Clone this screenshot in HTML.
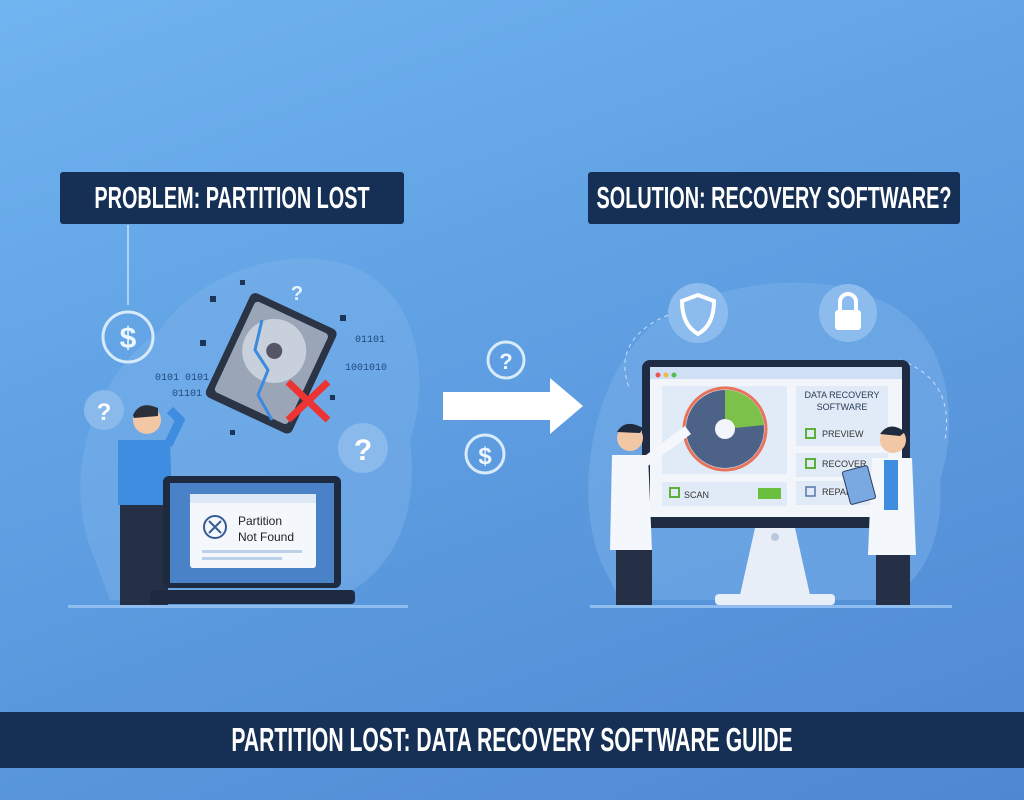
<!DOCTYPE html>
<html><head><meta charset="utf-8"><style>
*{margin:0;padding:0;box-sizing:border-box}
body{width:1024px;height:800px;overflow:hidden;position:relative;background:linear-gradient(160deg,#70b4f0 0%,#5f9fe2 45%,#4f88d2 100%);font-family:"Liberation Sans",sans-serif}
.t{position:absolute;background:#152f55;color:#fff;font-family:"Liberation Sans",sans-serif;font-weight:bold;border-radius:3px;white-space:nowrap;overflow:hidden}
.t span{position:absolute;left:50%;top:0;transform:translateX(-50%) scaleX(0.64);transform-origin:center}
</style></head><body>
<svg width="1024" height="800" style="position:absolute;left:0;top:0">
<path d="M95 560 C60 480 90 380 160 330 C200 270 300 240 360 270 C420 300 430 380 410 440 C420 520 390 580 330 600 L110 600 Z" fill="#7fb3ea" opacity="0.45"/>
<path d="M600 560 C570 480 600 360 660 320 C720 280 820 270 880 300 C950 330 960 420 940 480 C945 540 920 590 880 600 L620 600 Z" fill="#7fb3ea" opacity="0.45"/>
<rect x="68" y="605" width="340" height="3" fill="#8fbdf0"/>
<rect x="590" y="605" width="362" height="3" fill="#8fbdf0"/>
<line x1="128" y1="225" x2="128" y2="305" stroke="#c9e0f8" stroke-width="1.5"/>
<g fill="none" stroke="#d8eafc" stroke-width="3"><circle cx="128" cy="337" r="25"/><circle cx="485" cy="454" r="19"/><circle cx="506" cy="360" r="18"/></g>
<text x="128" y="348" font-size="30" fill="#eef6ff" text-anchor="middle" font-weight="bold">$</text>
<text x="485" y="464" font-size="24" fill="#eef6ff" text-anchor="middle" font-weight="bold">$</text>
<text x="506" y="369" font-size="22" fill="#eef6ff" text-anchor="middle" font-weight="bold">?</text>
<circle cx="363" cy="448" r="25" fill="#8ab9ec"/><text x="363" y="460" font-size="30" fill="#fff" text-anchor="middle" font-weight="bold">?</text>
<circle cx="104" cy="410" r="20" fill="#8ab9ec"/><text x="104" y="420" font-size="24" fill="#fff" text-anchor="middle" font-weight="bold">?</text>
<text x="297" y="300" font-size="20" fill="#e8f2ff" text-anchor="middle" font-weight="bold">?</text>
<g font-size="10" fill="#1f4a80" font-family="Liberation Mono"><text x="155" y="380">0101 0101</text><text x="172" y="396">01101</text><text x="355" y="342">01101</text><text x="345" y="370">1001010</text></g>
<g transform="rotate(25 270 360)"><rect x="225" y="305" width="95" height="115" rx="6" fill="#2b3445"/><rect x="232" y="312" width="81" height="100" rx="4" fill="#9aa6b8"/><circle cx="270" cy="350" r="32" fill="#c8d0dc"/><circle cx="270" cy="350" r="8" fill="#556"/></g>
<path d="M262 320 L255 350 L268 370 L258 395 L272 420" stroke="#3a8be0" stroke-width="3" fill="none"/>
<g stroke="#e33" stroke-width="7"><line x1="288" y1="382" x2="328" y2="420"/><line x1="328" y1="382" x2="288" y2="420"/></g>
<g fill="#1c3458"><rect x="210" y="296" width="6" height="6"/><rect x="240" y="280" width="5" height="5"/><rect x="200" y="340" width="6" height="6"/><rect x="340" y="315" width="6" height="6"/><rect x="230" y="430" width="5" height="5"/><rect x="330" y="395" width="5" height="5"/></g>
<circle cx="147" cy="420" r="14" fill="#f2c7a5"/><path d="M133 415 Q140 400 158 408 L158 416 L134 418Z" fill="#2a2f3a"/>
<path d="M118 440 L170 440 L172 505 L118 505 Z" fill="#3f8de0"/><path d="M168 445 L180 420 L170 410" stroke="#3f8de0" stroke-width="9" fill="none"/>
<rect x="120" y="505" width="48" height="100" fill="#253047"/>
<rect x="163" y="476" width="178" height="112" rx="6" fill="#1d2a40"/>
<rect x="170" y="483" width="164" height="100" fill="#4a82c8"/>
<rect x="190" y="494" width="126" height="74" rx="3" fill="#f4f8fd"/>
<rect x="190" y="494" width="126" height="9" fill="#dce8f6"/>
<circle cx="215" cy="527" r="11" fill="none" stroke="#355c94" stroke-width="2"/><path d="M209 521 L221 533 M221 521 L209 533" stroke="#355c94" stroke-width="2"/>
<text x="238" y="525" font-size="12" fill="#222">Partition</text><text x="238" y="541" font-size="12" fill="#222">Not Found</text>
<rect x="202" y="550" width="100" height="3" fill="#bcd0ea"/><rect x="202" y="557" width="80" height="3" fill="#bcd0ea"/>
<rect x="150" y="590" width="205" height="14" rx="4" fill="#1d2a40"/>
<path d="M443 392 L550 392 L550 378 L583 406 L550 434 L550 420 L443 420 Z" fill="#fff"/>
<circle cx="698" cy="313" r="30" fill="#8cbcee"/><path d="M698 295 L714 301 Q714 325 698 334 Q682 325 682 301 Z" fill="none" stroke="#fff" stroke-width="4"/>
<circle cx="848" cy="313" r="29" fill="#8cbcee"/><rect x="835" y="310" width="26" height="20" rx="3" fill="#fff"/><path d="M840 310 V302 A8 8 0 0 1 856 302 V310" stroke="#fff" stroke-width="4" fill="none"/>
<path d="M668 315 Q610 340 630 390" stroke="#c9e0f8" stroke-dasharray="4 4" fill="none"/>
<path d="M900 360 Q955 380 945 440" stroke="#c9e0f8" stroke-dasharray="4 4" fill="none"/>
<rect x="642" y="360" width="268" height="168" rx="8" fill="#1f2b42"/>
<rect x="650" y="367" width="252" height="150" fill="#f2f6fb"/>
<rect x="650" y="367" width="252" height="12" fill="#d0e0f4"/>
<circle cx="658" cy="375" r="2.5" fill="#e55"/><circle cx="666" cy="375" r="2.5" fill="#eb4"/><circle cx="674" cy="375" r="2.5" fill="#5b5"/>
<rect x="662" y="386" width="125" height="88" fill="#e1ebf7"/>
<circle cx="725" cy="429" r="41" fill="none" stroke="#e8735a" stroke-width="3"/>
<circle cx="725" cy="429" r="39" fill="#4c6286"/><path d="M725 390 A39 39 0 0 1 764 425 L725 429Z" fill="#7cc24a"/>
<circle cx="725" cy="429" r="10" fill="#f2f6fb"/>
<rect x="662" y="482" width="125" height="24" fill="#e1ebf7"/><text x="684" y="498" font-size="9" fill="#333">SCAN</text><rect x="758" y="488" width="23" height="11" fill="#6bbf3f"/>
<rect x="796" y="386" width="92" height="60" fill="#e1ebf7"/><text x="842" y="398" font-size="9" fill="#2a3a55" text-anchor="middle">DATA RECOVERY</text><text x="842" y="410" font-size="9" fill="#2a3a55" text-anchor="middle">SOFTWARE</text>
<text x="822" y="437" font-size="9" fill="#333">PREVIEW</text>
<rect x="796" y="453" width="92" height="24" fill="#e1ebf7"/><text x="822" y="467" font-size="9" fill="#333">RECOVER</text>
<rect x="796" y="481" width="92" height="24" fill="#e1ebf7"/><text x="822" y="495" font-size="9" fill="#333">REPAIR</text>
<g fill="none" stroke="#5bb03a" stroke-width="2"><rect x="806" y="429" width="9" height="9"/><rect x="806" y="459" width="9" height="9"/><rect x="670" y="488" width="9" height="9"/></g>
<rect x="806" y="487" width="9" height="9" fill="none" stroke="#5577aa" stroke-width="1.5"/>
<path d="M755 528 L795 528 L810 595 L740 595Z" fill="#e8eef7"/><rect x="715" y="594" width="120" height="11" rx="4" fill="#e8eef7"/>
<circle cx="775" cy="537" r="4" fill="#b9c8dc"/>
<circle cx="630" cy="438" r="13" fill="#f2c7a5"/><path d="M617 432 Q625 418 643 428 L640 433 Z" fill="#1f2a3c"/>
<path d="M612 455 L648 455 L652 550 L610 550 Z" fill="#f4f7fb"/><path d="M645 462 L688 430" stroke="#f4f7fb" stroke-width="10"/>
<rect x="616" y="550" width="36" height="55" fill="#253047"/>
<circle cx="893" cy="440" r="13" fill="#f2c7a5"/><path d="M880 434 Q890 420 905 432 L900 436 Z" fill="#1f2a3c"/>
<path d="M872 458 L912 458 L916 555 L868 555 Z" fill="#f4f7fb"/><rect x="884" y="460" width="14" height="50" fill="#3f8de0"/>
<rect x="876" y="555" width="34" height="50" fill="#253047"/>
<rect x="846" y="468" width="26" height="34" rx="2" fill="#7aa8e0" stroke="#2b3d5c" transform="rotate(-15 859 485)"/>
</svg>
<div class="t" style="left:60px;top:172px;width:344px;height:52px;line-height:52px;font-size:31px"><span>PROBLEM: PARTITION LOST</span></div>
<div class="t" style="left:588px;top:172px;width:372px;height:52px;line-height:52px;font-size:31px"><span>SOLUTION: RECOVERY SOFTWARE?</span></div>
<div class="t" style="left:0;top:712px;width:1024px;height:56px;line-height:56px;font-size:33px;border-radius:0"><span>PARTITION LOST: DATA RECOVERY SOFTWARE GUIDE</span></div>
</body></html>
